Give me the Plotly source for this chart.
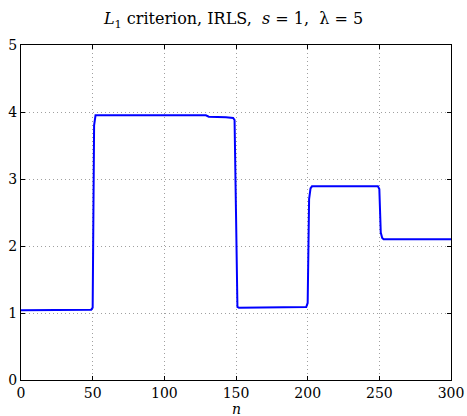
import plotly.graph_objects as go

# breakpoints of the recovered piecewise-constant signal
n_vals = [0, 48, 49, 50, 51, 52, 100, 129, 131, 141, 143, 148, 149, 150, 151, 152,
          198, 199, 200, 201, 202, 203, 248, 249, 250, 251, 252, 253, 300]
x_vals = [1.04, 1.04, 1.05, 1.08, 3.80, 3.95, 3.95, 3.95, 3.93, 3.93, 3.92, 3.91, 3.88, 2.5, 1.09, 1.08,
          1.08, 1.09, 1.15, 2.70, 2.86, 2.89, 2.89, 2.89, 2.85, 2.20, 2.12, 2.10, 2.10]

x_ticks = [0, 50, 100, 150, 200, 250, 300]
y_ticks = [0, 1, 2, 3, 4, 5]

FONT = "DejaVu Serif"

fig = go.Figure()
fig.add_trace(go.Scatter(x=n_vals, y=x_vals, mode="lines",
                         line=dict(color="#0000ff", width=2), showlegend=False))

axis_common = dict(showline=True, linecolor="black", linewidth=1, mirror="ticks",
                   ticks="inside", ticklen=4, tickcolor="black",
                   showgrid=True, gridcolor="#a0a0a0", griddash="1px,3px", gridwidth=1,
                   zeroline=False, automargin=False,
                   tickfont=dict(family=FONT, size=14, color="black"))

fig.update_layout(
    width=467, height=416,
    margin=dict(l=21, r=16, t=45, b=36),
    paper_bgcolor="white", plot_bgcolor="white",
    title=dict(text="<i>L</i><sub>1</sub> criterion, IRLS,  <i>s</i> = 1,  λ = 5",
               x=0.5, xanchor="center", y=0.955, yanchor="middle",
               font=dict(family=FONT, size=16, color="black")),
    xaxis=dict(range=[0, 300], tickvals=x_ticks, ticklabelstandoff=0, **axis_common),
    yaxis=dict(range=[0, 5], tickvals=y_ticks, ticklabelstandoff=0, **axis_common),
    annotations=[dict(text="<i>n</i>", xref="paper", yref="paper", x=0.5, y=-0.086,
                      xanchor="center", yanchor="middle", showarrow=False,
                      font=dict(family=FONT, size=14, color="black"))],
)

fig.write_html("out.html")
